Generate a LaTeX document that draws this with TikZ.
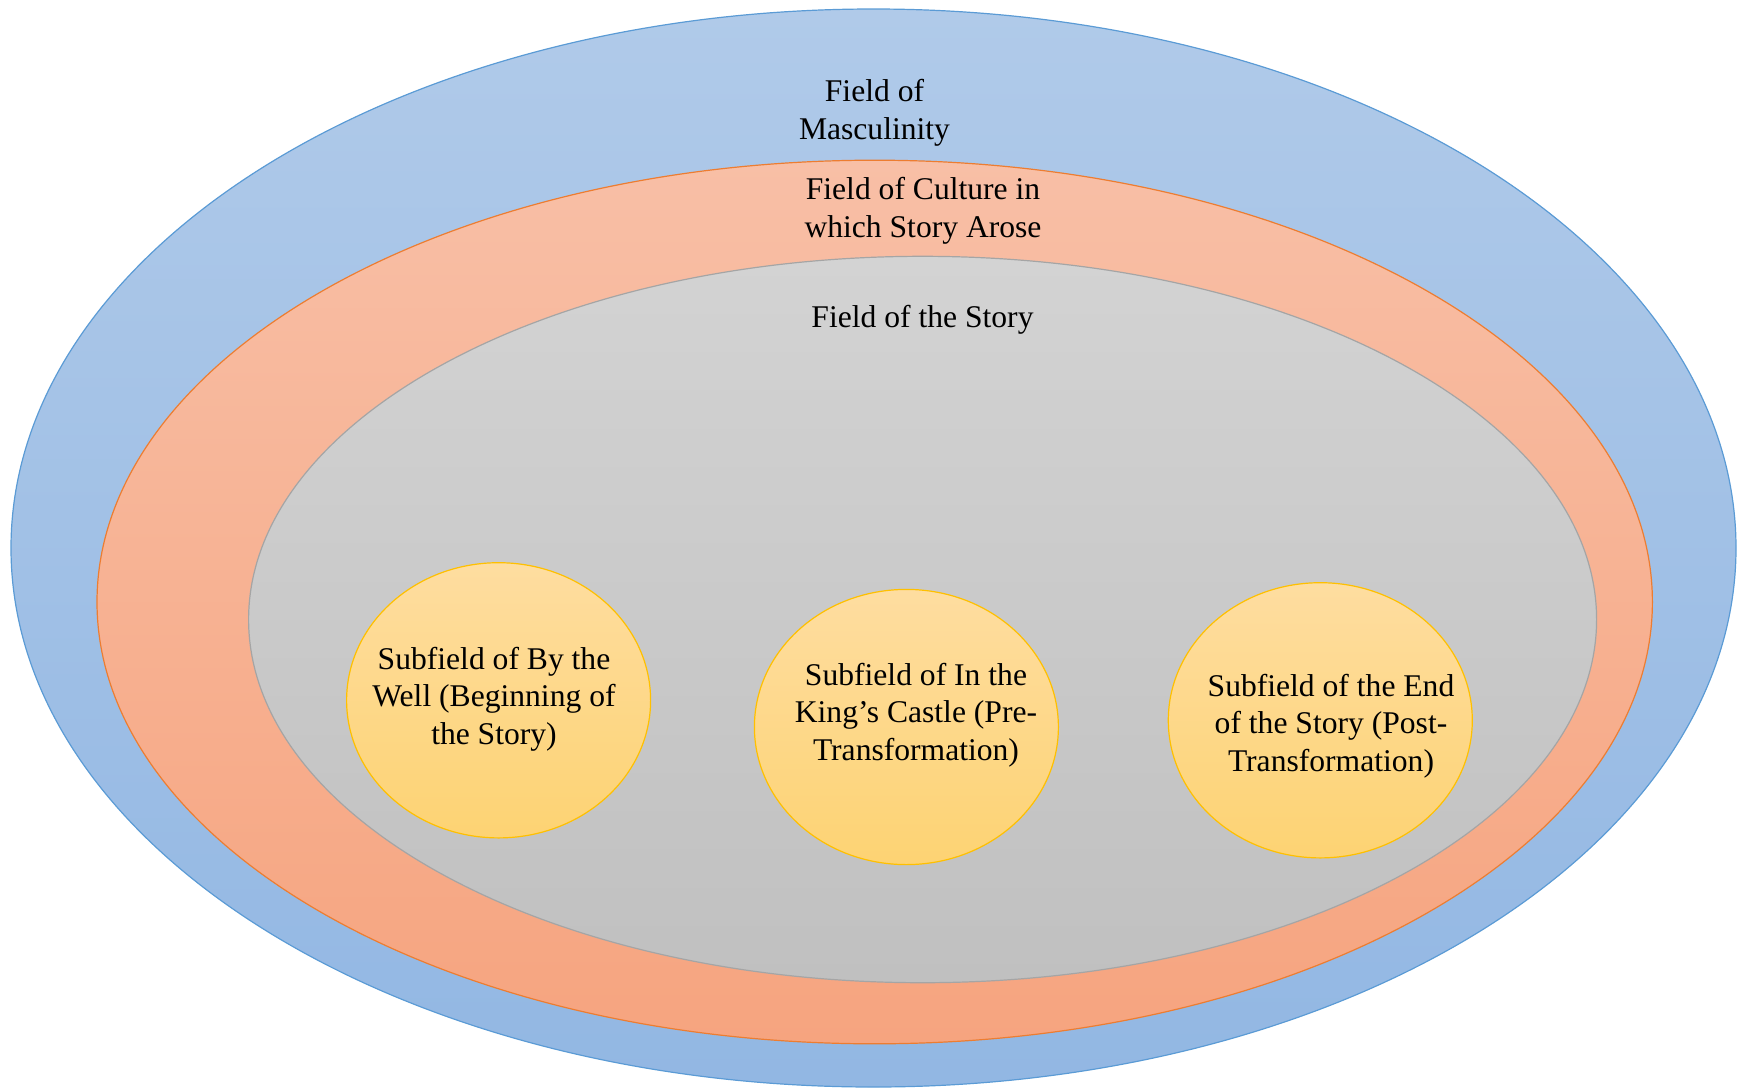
\documentclass[tikz,border=0pt]{standalone}
\usepackage{fontspec}
\setmainfont{Liberation Serif}
\usetikzlibrary{shapes.geometric}
\definecolor{bluetop}{HTML}{B0CAE9}
\definecolor{bluebot}{HTML}{92B7E3}
\definecolor{blueline}{HTML}{5B9BD5}
\definecolor{ortop}{HTML}{F8BFA6}
\definecolor{orbot}{HTML}{F6A47F}
\definecolor{orline}{HTML}{ED7D31}
\definecolor{grtop}{HTML}{D3D3D3}
\definecolor{grbot}{HTML}{C0C0C0}
\definecolor{grline}{HTML}{A5A5A5}
\definecolor{yetop}{HTML}{FEDDA0}
\definecolor{yebot}{HTML}{FDD373}
\definecolor{yeline}{HTML}{FFC000}
\tikzset{
  field/.style={ellipse, inner sep=0pt, line width=0.6pt},
  sub/.style={field, draw=yeline, top color=yetop, bottom color=yebot,
    minimum width=152pt, minimum height=137.6pt},
  lbl/.style={align=center, inner sep=0pt, font=\fontsize{15.8}{18.8}\selectfont}
}
\begin{document}
\begin{tikzpicture}[x=0.5pt,y=-0.5pt]
\useasboundingbox (0,0) rectangle (1747,1088);
\node[field, draw=blueline, top color=bluetop, bottom color=bluebot,
  minimum width=862.5pt, minimum height=539pt] (masc) at (873.5,548) {};
\node[field, draw=orline, top color=ortop, bottom color=orbot,
  minimum width=777.7pt, minimum height=441.8pt] (cult) at (874.7,602) {};
\node[field, draw=grline, top color=grtop, bottom color=grbot,
  minimum width=674pt, minimum height=363.2pt] (story) at (922.6,619.5) {};
\node[sub] (s1) at (498.6,700.3) {};
\node[sub] (s2) at (906.4,727) {};
\node[sub] (s3) at (1320.3,720.3) {};
\node[lbl] (tmasc) at (874.5,113) {Field of\\Masculinity};
\node[lbl] (tcult) at (923,211) {Field of Culture in\\which Story Arose};
\node[lbl, anchor=base] (tstory) at (922.5,327) {Field of the Story};
\node[lbl] (t1) at (494,699) {Subfield of By the\\Well (Beginning of\\the Story)};
\node[lbl] (t2) at (916,715) {Subfield of In the\\King’s Castle (Pre-\\Transformation)};
\node[lbl] (t3) at (1331,726) {Subfield of the End\\of the Story (Post-\\Transformation)};
\end{tikzpicture}
\end{document}
